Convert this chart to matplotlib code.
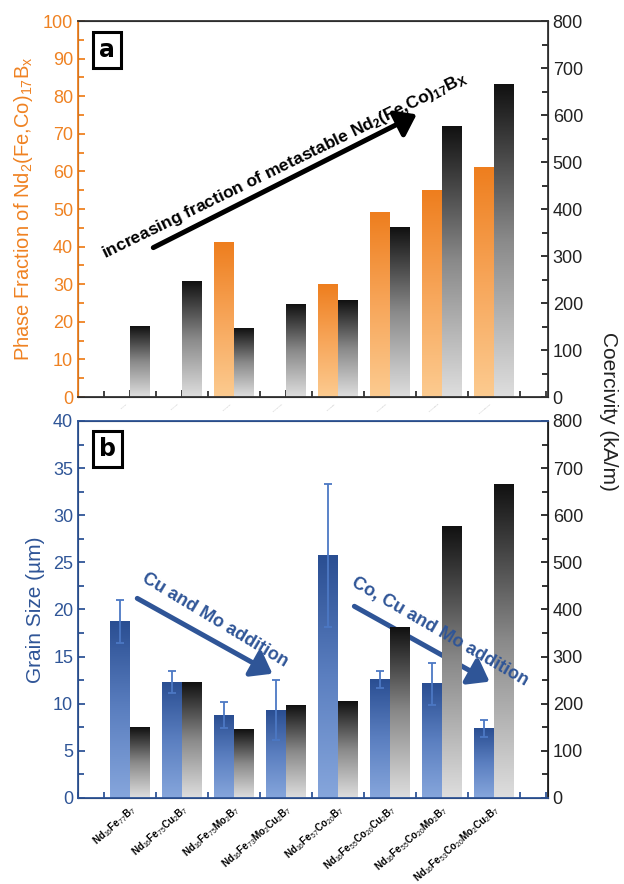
import matplotlib
matplotlib.use("Agg")
import matplotlib.pyplot as plt
import numpy as np
from matplotlib.colors import LinearSegmentedColormap
from matplotlib.patches import FancyArrowPatch
from matplotlib.ticker import MultipleLocator

plt.rcParams['font.family'] = ['Liberation Sans', 'DejaVu Sans']
plt.rcParams['mathtext.fontset'] = 'custom'
plt.rcParams['mathtext.rm'] = 'Liberation Sans'
plt.rcParams['mathtext.it'] = 'Liberation Sans'
plt.rcParams['mathtext.bf'] = 'Liberation Sans:bold'

alloys = [r"Nd$_{16}$Fe$_{77}$B$_7$",
          r"Nd$_{16}$Fe$_{75}$Cu$_2$B$_7$",
          r"Nd$_{16}$Fe$_{75}$Mo$_2$B$_7$",
          r"Nd$_{16}$Fe$_{73}$Mo$_2$Cu$_2$B$_7$",
          r"Nd$_{16}$Fe$_{57}$Co$_{20}$B$_7$",
          r"Nd$_{16}$Fe$_{55}$Co$_{20}$Cu$_2$B$_7$",
          r"Nd$_{16}$Fe$_{55}$Co$_{20}$Mo$_2$B$_7$",
          r"Nd$_{16}$Fe$_{53}$Co$_{20}$Mo$_2$Cu$_2$B$_7$"]
phase_frac = [0, 0, 41, 0, 30, 49, 55, 61]
coercivity = [150, 246, 146, 197, 205, 361, 576, 666]
grain_size = [18.7, 12.3, 8.8, 9.3, 25.7, 12.6, 12.1, 7.4]
grain_err = [2.3, 1.2, 1.4, 3.2, 7.6, 0.9, 2.2, 0.9]

ORANGE = '#EF8222'
BLUE = '#2F5597'
cm_orange = LinearSegmentedColormap.from_list('o', ['#FCCB90', '#F7A65A', '#EE7E1E'])
cm_gray = LinearSegmentedColormap.from_list('g', ['#DEDEDE', '#8A8A8A', '#111111'])
cm_blue = LinearSegmentedColormap.from_list('b', ['#86A6DC', '#5B7FC0', '#2A4E92'])

x = np.arange(1, len(alloys) + 1)
bw = 0.37
grad = np.linspace(0, 1, 256).reshape(-1, 1)


def gradient_bars(ax, xs, hs, cmap, zorder=2):
    bars = ax.bar(xs, hs, bw, color='none', edgecolor='none', zorder=zorder)
    for r in bars:
        if r.get_height() <= 0:
            continue
        x0, w, h = r.get_x(), r.get_width(), r.get_height()
        ax.imshow(grad, cmap=cmap, origin='lower', aspect='auto',
                  extent=[x0, x0 + w, 0, h], zorder=zorder, interpolation='bilinear')
    return bars


def style_x(ax, color):
    ax.set_xlim(0, 9.04)
    ax.xaxis.set_major_locator(MultipleLocator(1))
    ax.xaxis.set_minor_locator(MultipleLocator(0.5))
    ax.tick_params(axis='x', which='both', direction='in', color=color, width=1.3)
    ax.tick_params(axis='x', which='major', length=5)
    ax.tick_params(axis='x', which='minor', length=4)


def style_y(ax, color, major, minor):
    ax.yaxis.set_major_locator(MultipleLocator(major))
    ax.yaxis.set_minor_locator(MultipleLocator(minor))
    ax.tick_params(axis='y', which='both', direction='in', colors=color, labelsize=13, width=1.3)
    ax.tick_params(axis='y', which='major', length=5)
    ax.tick_params(axis='y', which='minor', length=4)


fig = plt.figure(figsize=(6.24, 8.84), dpi=100)
ax_a = fig.add_axes([0.125, 0.5509, 0.753, 0.4253])
ax_b = fig.add_axes([0.125, 0.0973, 0.753, 0.4265])

# panel a: phase fraction + coercivity
gradient_bars(ax_a, x - bw / 2 - 0.01, phase_frac, cm_orange)
ax_a2 = ax_a.twinx()
gradient_bars(ax_a2, x + bw / 2 + 0.01, coercivity, cm_gray)

ax_a.set_ylim(0, 100)
ax_a2.set_ylim(0, 800)
style_x(ax_a, '#333333')
ax_a.set_xticks(x)
ax_a.set_xticklabels(alloys, fontsize=0.5, rotation=40, ha='right', color='#BBBBBB')
style_y(ax_a, ORANGE, 10, 5)
ax_a.set_ylabel(r"Phase Fraction of Nd$_2$(Fe,Co)$_{17}$B$_x$", color=ORANGE, fontsize=14.5, labelpad=6)
style_y(ax_a2, '#222222', 100, 50)
ax_a2.spines['left'].set_color(ORANGE)
for s in ['top', 'bottom', 'right']:
    ax_a2.spines[s].set_color('#333333')
for sp in ax_a2.spines.values():
    sp.set_linewidth(1.3)

ax_a2.text(0.062, 0.923, 'a', transform=ax_a2.transAxes, fontsize=17, fontweight='bold',
           ha='center', va='center', family='DejaVu Sans',
           bbox=dict(boxstyle='square,pad=0.25', fc='white', ec='black', lw=2.2))
ax_a2.add_patch(FancyArrowPatch((0.155, 0.394), (0.726, 0.755), transform=ax_a2.transAxes,
                                arrowstyle='-|>,head_length=0.55,head_width=0.4',
                                mutation_scale=22, lw=3.6, color='black'))
ax_a2.text(0.44, 0.615, r"increasing fraction of metastable Nd$_\mathbf{2}$(Fe,Co)$_\mathbf{17}$B$_\mathbf{X}$",
           transform=ax_a2.transAxes, rotation=26, fontsize=12.5, fontweight='bold',
           ha='center', va='center', rotation_mode='anchor')

# panel b: grain size + coercivity
gradient_bars(ax_b, x - bw / 2 - 0.01, grain_size, cm_blue)
ax_b.errorbar(x - bw / 2 - 0.01, grain_size, yerr=grain_err, fmt='none',
              ecolor='#4C78C4', elinewidth=1.3, capsize=3, capthick=1.3, zorder=3)
ax_b2 = ax_b.twinx()
gradient_bars(ax_b2, x + bw / 2 + 0.01, coercivity, cm_gray)

ax_b.set_ylim(0, 40)
ax_b2.set_ylim(0, 800)
style_x(ax_b, BLUE)
ax_b.set_xticks(x)
ax_b.set_xticklabels(alloys, fontsize=7, fontweight='bold', rotation=41, ha='right',
                     va='top', rotation_mode='anchor')
style_y(ax_b, BLUE, 5, 2.5)
ax_b.set_ylabel("Grain Size (µm)", color=BLUE, fontsize=15, labelpad=6)
style_y(ax_b2, '#222222', 100, 50)
for s in ['left', 'top', 'bottom']:
    ax_b2.spines[s].set_color(BLUE)
ax_b2.spines['right'].set_color('#222222')
for sp in ax_b2.spines.values():
    sp.set_linewidth(1.3)

ax_b2.text(0.062, 0.926, 'b', transform=ax_b2.transAxes, fontsize=17, fontweight='bold',
           ha='center', va='center', family='DejaVu Sans',
           bbox=dict(boxstyle='square,pad=0.25', fc='white', ec='black', lw=2.2))
for p0, p1 in [((0.121, 0.533), (0.419, 0.326)), ((0.583, 0.512), (0.881, 0.305))]:
    ax_b2.add_patch(FancyArrowPatch(p0, p1, transform=ax_b2.transAxes,
                                    arrowstyle='-|>,head_length=0.55,head_width=0.4',
                                    mutation_scale=22, lw=3.6, color=BLUE))
ax_b2.text(0.291, 0.472, "Cu and Mo addition", transform=ax_b2.transAxes, rotation=-31,
           fontsize=13, fontweight='bold', color=BLUE, ha='center', va='center',
           rotation_mode='anchor')
ax_b2.text(0.770, 0.440, "Co, Cu and Mo addition", transform=ax_b2.transAxes, rotation=-30,
           fontsize=13, fontweight='bold', color=BLUE, ha='center', va='center',
           rotation_mode='anchor')

fig.text(0.975, 0.535, "Coercivity (kA/m)", rotation=270, fontsize=15,
         ha='center', va='center', color='#222222')

fig.savefig('out.png', dpi=100, facecolor='white')
